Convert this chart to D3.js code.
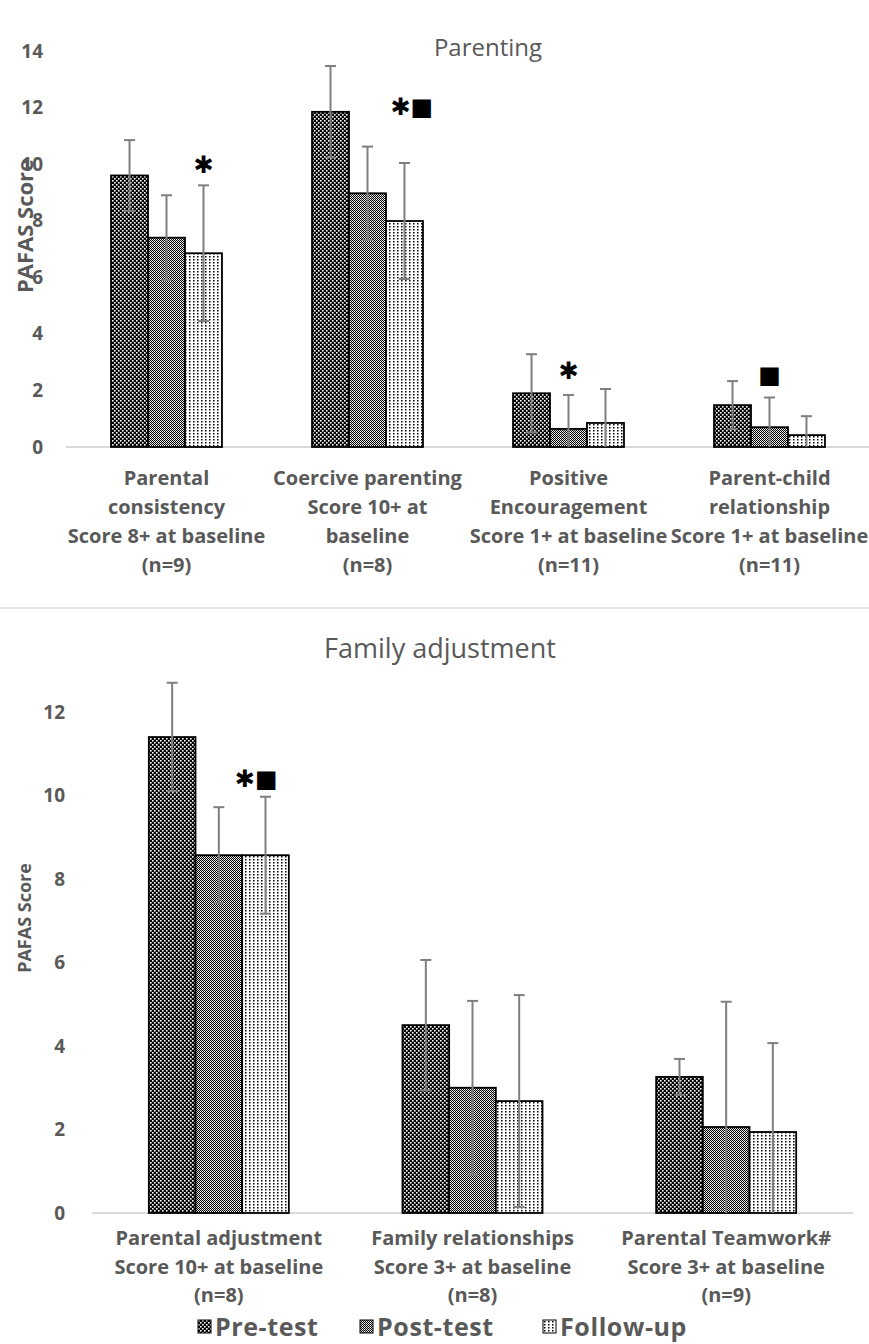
<!DOCTYPE html>
<html><head><meta charset="utf-8">
<script src="https://cdn.jsdelivr.net/npm/d3@7"></script>
<style>body{margin:0;background:#fff}svg{display:block}</style>
</head><body>
<svg id="c" width="869" height="1344"></svg>
<script>
// ---- data ----
const series = ["Pre-test", "Post-test", "Follow-up"];

const topCategories = [
  ["Parental", "consistency", "Score 8+ at baseline", "(n=9)"],
  ["Coercive parenting", "Score 10+ at", "baseline", "(n=8)"],
  ["Positive", "Encouragement", "Score 1+ at baseline", "(n=11)"],
  ["Parent-child", "relationship", "Score 1+ at baseline", "(n=11)"]
];
const topPre = [9.6, 11.85, 1.9, 1.48];
const topPost = [7.4, 8.97, 0.64, 0.7];
const topFollow = [6.85, 7.99, 0.85, 0.42];
const topPreErr = [1.25, 1.62, 1.38, 0.85];
const topPostErr = [1.5, 1.65, 1.2, 1.05];
const topFollowErr = [2.4, 2.05, 1.2, 0.67];
const topTicks = [0, 2, 4, 6, 8, 10, 12, 14];
// annotations: [category index, series position, y value, text]
const topNotes = [[0, 2, 10.0, "✱"], [1, 2.2, 12.05, "✱■"], [2, 1, 2.7, "✱"], [3, 1, 2.55, "■"]];

const botCategories = [
  ["Parental adjustment", "Score 10+ at baseline", "(n=8)"],
  ["Family relationships", "Score 3+ at baseline", "(n=8)"],
  ["Parental Teamwork#", "Score 3+ at baseline", "(n=9)"]
];
const botPre = [11.4, 4.5, 3.26];
const botPost = [8.57, 3.0, 2.06];
const botFollow = [8.57, 2.68, 1.94];
const botPreErr = [1.3, 1.56, 0.43];
const botPostErr = [1.15, 2.08, 3.0];
const botFollowErr = [1.4, 2.54, 2.13];
const botTicks = [0, 2, 4, 6, 8, 10, 12];
const botNotes = [[0, 1.8, 10.4, "✱■"]];

// ---- drawing ----
const svg = d3.select("#c");
const grey = "#595959";
const defs = svg.append("defs");

// patterns
const p0 = defs.append("pattern").attr("id", "pat0").attr("patternUnits", "userSpaceOnUse").attr("width", 4).attr("height", 4);
p0.append("rect").attr("width", 4).attr("height", 4).attr("fill", "#000");
p0.append("rect").attr("x", 0).attr("y", 0).attr("width", 1.6).attr("height", 1.6).attr("fill", "#fff");
p0.append("rect").attr("x", 2).attr("y", 2).attr("width", 1.6).attr("height", 1.6).attr("fill", "#fff");
const p1 = defs.append("pattern").attr("id", "pat1").attr("patternUnits", "userSpaceOnUse").attr("width", 2).attr("height", 2);
p1.append("rect").attr("width", 2).attr("height", 2).attr("fill", "#fff");
p1.append("rect").attr("x", 0).attr("y", 0).attr("width", 1).attr("height", 1).attr("fill", "#000");
p1.append("rect").attr("x", 1).attr("y", 1).attr("width", 1).attr("height", 1).attr("fill", "#000");
p1.append("rect").attr("x", 1).attr("y", 0).attr("width", 1).attr("height", 1).attr("fill", "#000").attr("opacity", 0.2);
const p2 = defs.append("pattern").attr("id", "pat2").attr("patternUnits", "userSpaceOnUse").attr("width", 4).attr("height", 3);
p2.append("rect").attr("width", 4).attr("height", 3).attr("fill", "#fff");
p2.append("rect").attr("x", 1).attr("y", 1).attr("width", 1.5).attr("height", 1.5).attr("fill", "#000");

function drawChart(opt) {
  const g = svg.append("g");
  const x = d3.scaleBand().domain(d3.range(opt.cats.length)).range([opt.x0, opt.x1]).padding(0);
  const groupW = x.bandwidth() * 0.552;
  const xs = d3.scaleBand().domain([0, 1, 2]).range([0, groupW]).padding(0);
  const y = d3.scaleLinear().domain([0, opt.ymax]).range([opt.y0, opt.ytop]);
  const xBar = (c, s) => x(c) + (x.bandwidth() - groupW) / 2 + xs(s);

  // title
  g.append("text").attr("x", opt.titleX).attr("y", opt.titleY).attr("text-anchor", "middle")
    .attr("font-family", "Open Sans").attr("font-size", opt.titleSize).attr("fill", grey).text(opt.title);

  // y axis
  const ax = g.append("g").attr("transform", `translate(${opt.tickX},0)`)
    .call(d3.axisLeft(y).tickValues(opt.ticks).tickSize(0).tickPadding(0));
  ax.select(".domain").remove();
  ax.selectAll("text").attr("font-family", "Open Sans").attr("font-weight", "bold")
    .attr("font-size", 19).attr("fill", grey);

  // y title
  g.append("text").attr("transform", `translate(${opt.ytitleX},${opt.ytitleY}) rotate(-90)`)
    .attr("text-anchor", "middle").attr("font-family", "Open Sans").attr("font-weight", "bold")
    .attr("font-size", opt.ytitleSize).attr("fill", grey).text("PAFAS Score");

  // baseline
  g.append("line").attr("x1", opt.x0).attr("x2", opt.x1).attr("y1", y(0)).attr("y2", y(0))
    .attr("stroke", "#d9d9d9").attr("stroke-width", 2);

  // bars
  const data = [];
  opt.vals.forEach((arr, s) => arr.forEach((v, c) => data.push({ c, s, v, e: opt.errs[s][c] })));
  g.selectAll("rect.bar").data(data).join("rect").attr("class", "bar")
    .attr("x", d => xBar(d.c, d.s)).attr("width", xs.bandwidth())
    .attr("y", d => y(d.v)).attr("height", d => y(0) - y(d.v))
    .attr("fill", d => `url(#pat${d.s})`).attr("stroke", "#000").attr("stroke-width", 1.8);

  // error bars
  const eb = g.selectAll("g.err").data(data).join("g").attr("class", "err")
    .attr("stroke", "#7f7f7f").attr("stroke-width", 2);
  const cx = d => xBar(d.c, d.s) + xs.bandwidth() / 2;
  eb.append("line").attr("x1", cx).attr("x2", cx).attr("y1", d => y(d.v + d.e)).attr("y2", d => y(Math.max(0, d.v - d.e)));
  eb.append("line").attr("x1", d => cx(d) - 5.5).attr("x2", d => cx(d) + 5.5).attr("y1", d => y(d.v + d.e)).attr("y2", d => y(d.v + d.e));
  eb.filter(d => d.v - d.e > 0).append("line").attr("x1", d => cx(d) - 5.5).attr("x2", d => cx(d) + 5.5)
    .attr("y1", d => y(d.v - d.e)).attr("y2", d => y(d.v - d.e));

  // annotations
  g.selectAll("text.note").data(opt.notes).join("text").attr("class", "note")
    .attr("x", d => x(d[0]) + (x.bandwidth() - groupW) / 2 + xs.bandwidth() * (d[1] + 0.5))
    .attr("y", d => y(d[2])).attr("dy", "0.35em").attr("text-anchor", "middle")
    .attr("font-family", "DejaVu Sans").attr("font-size", 24).attr("font-weight", "bold").attr("fill", "#000")
    .text(d => d[3]);

  // category labels
  const lab = g.selectAll("text.cat").data(opt.cats).join("text").attr("class", "cat")
    .attr("text-anchor", "middle").attr("font-family", "Open Sans").attr("font-weight", "bold")
    .attr("font-size", 20).attr("fill", grey);
  lab.selectAll("tspan").data((d, i) => d.map(t => ({ t, i }))).join("tspan")
    .attr("x", d => x(d.i) + x.bandwidth() / 2)
    .attr("y", (d, j) => opt.labY + j * opt.labStep).text(d => d.t);
}

drawChart({
  cats: topCategories, vals: [topPre, topPost, topFollow], errs: [topPreErr, topPostErr, topFollowErr],
  ticks: topTicks, ymax: 14, y0: 447, ytop: 51, x0: 66, x1: 870, tickX: 43,
  title: "Parenting", titleX: 488, titleY: 56, titleSize: 24,
  ytitleX: 33, ytitleY: 226, ytitleSize: 22, labY: 485, labStep: 29, notes: topNotes
});

drawChart({
  cats: botCategories, vals: [botPre, botPost, botFollow], errs: [botPreErr, botPostErr, botFollowErr],
  ticks: botTicks, ymax: 12, y0: 1213, ytop: 712, x0: 92, x1: 853, tickX: 65,
  title: "Family adjustment", titleX: 440, titleY: 658, titleSize: 27,
  ytitleX: 31, ytitleY: 918, ytitleSize: 18, labY: 1245, labStep: 28.5, notes: botNotes
});

// divider
svg.append("line").attr("x1", 0).attr("x2", 869).attr("y1", 608).attr("y2", 608)
  .attr("stroke", "#e3e3e3").attr("stroke-width", 2);

// legend
const legX = [198, 360, 543];
const leg = svg.append("g").selectAll("g").data(series).join("g")
  .attr("transform", (d, i) => `translate(${legX[i]},1320)`);
leg.append("rect").attr("width", 13).attr("height", 13).attr("fill", (d, i) => `url(#pat${i})`)
  .attr("stroke", "#000").attr("stroke-width", 1);
leg.append("text").attr("x", 17).attr("y", 16).attr("font-family", "Open Sans").attr("font-weight", "bold")
  .attr("font-size", 25).attr("letter-spacing", 0.6).attr("fill", grey).text(d => d);
</script>
</body></html>
